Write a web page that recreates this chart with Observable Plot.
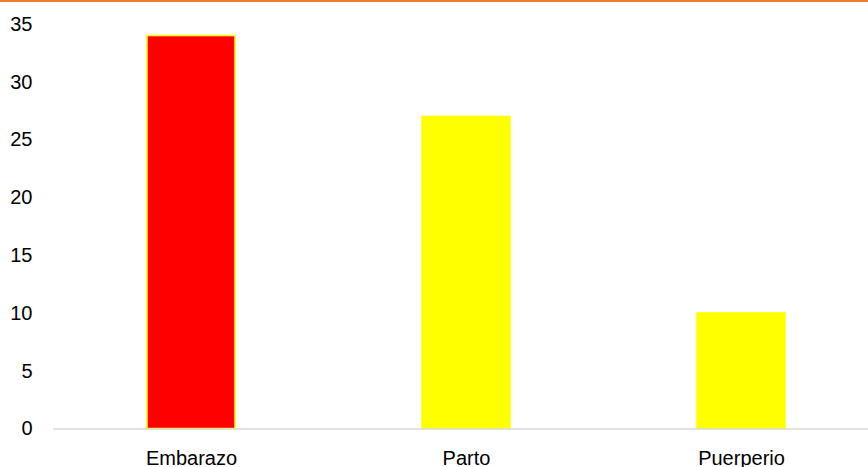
<!DOCTYPE html>
<html>
<head>
<meta charset="utf-8">
<script src="https://cdn.jsdelivr.net/npm/d3@7"></script>
<script src="https://cdn.jsdelivr.net/npm/@observablehq/plot@0.6"></script>
<style>
  html, body { margin: 0; padding: 0; background: #fff; }
  #topline { width: 868px; height: 2px; background: #ED7D31; }
  #chart { width: 868px; }
</style>
</head>
<body>
<div id="topline"></div>
<div id="chart"></div>
<script>
const categories = ["Embarazo", "Parto", "Puerperio"];
const values = [34, 27, 10];
const yTicks = [0, 5, 10, 15, 20, 25, 30, 35];
const barColors = ["#FF0000", "#FFFF00", "#FFFF00"];

const data = categories.map((c, i) => ({ category: c, value: values[i] }));

const chart = Plot.plot({
  width: 868,
  height: 465,
  marginTop: 22,
  marginBottom: 38.5,
  marginLeft: 53,
  marginRight: 0,
  style: { fontFamily: "Liberation Sans, Arial, sans-serif", fontSize: "20px", color: "#000", background: "#fff" },
  x: { domain: categories, range: [53.5, 878.5], paddingInner: 0.68, paddingOuter: 0.34, label: null },
  y: { domain: [0, 35], label: null },
  color: { domain: categories, range: barColors },
  marks: [
    Plot.barY(data, { x: "category", y: "value", fill: "category", stroke: "#FFFF00", strokeWidth: 1.5 }),
    Plot.ruleY([0], { stroke: "#d9d9d9", strokeWidth: 1.5 }),
    Plot.axisY({ ticks: yTicks, tickSize: 0, tickPadding: 21, label: null }),
    Plot.axisX({ tickSize: 0, tickPadding: 22, label: null })
  ]
});
document.getElementById("chart").appendChild(chart);
</script>
</body>
</html>
